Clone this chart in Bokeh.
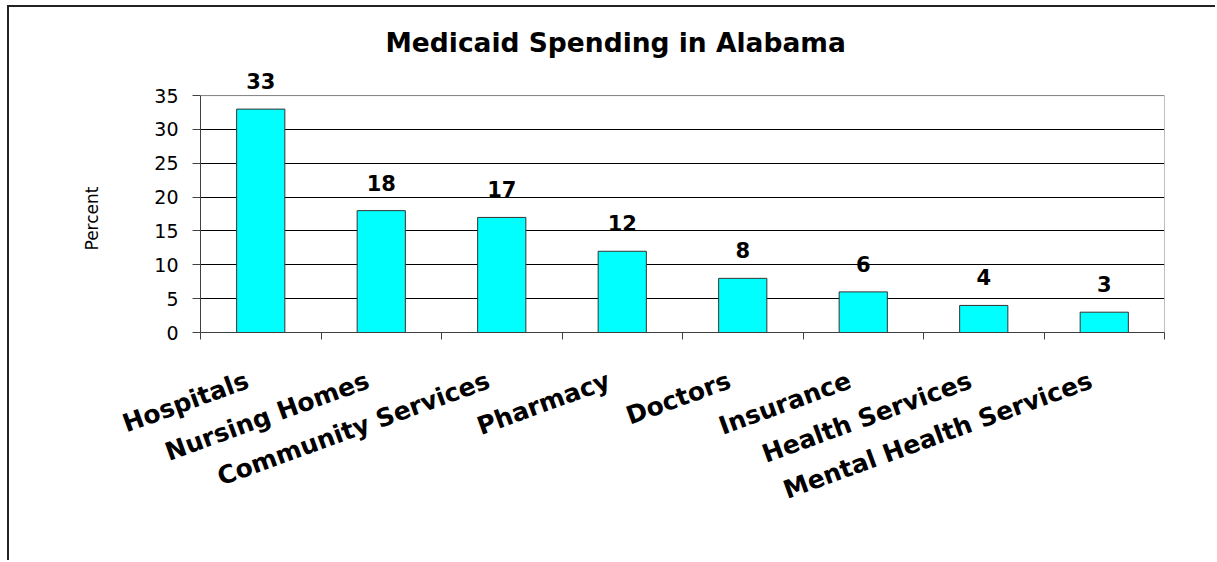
import math
from bokeh.plotting import figure
from bokeh.models import Range1d, FixedTicker, ColumnDataSource, LabelSet, Title
from bokeh.core.properties import value
from bokeh.embed import file_html
from bokeh.resources import INLINE

# ---- data ----
title_text = "Medicaid Spending in Alabama"
categories = ["Hospitals", "Nursing Homes", "Community Services", "Pharmacy",
              "Doctors", "Insurance", "Health Services", "Mental Health Services"]
percent = [33, 18, 17, 12, 8, 6, 4, 3]
y_ticks = [0, 5, 10, 15, 20, 25, 30, 35]
y_label = "Percent"

n = len(categories)
y_top = y_ticks[-1]
y_head = y_top + 4          # head-room above the plot area for the value labels
centers = [i + 0.5 for i in range(n)]
boundaries = list(range(n + 1))
label_shift = 0.11          # category labels end slightly left of the centre (Excel style)
label_pos = [c - label_shift for c in centers]

FONT = "DejaVu Sans"
MARGIN_L, MARGIN_T = 9, 7   # outer chart border offset in the window

p = figure(width=1217 - MARGIN_L, height=562 - MARGIN_T,
           x_range=Range1d(0, n), y_range=Range1d(y_ticks[0], y_head),
           output_backend="svg", toolbar_location=None,
           min_border_left=200 - MARGIN_L, min_border_right=53,
           min_border_top=68 - MARGIN_T, min_border_bottom=230)

p.styles = {"margin-left": f"{MARGIN_L}px", "margin-top": f"{MARGIN_T}px",
            "box-shadow": "-2px -2px 0px 0px #222222"}

p.background_fill_color = "white"
p.border_fill_color = "white"
p.outline_line_color = None

# title
p.title.text = title_text
p.title.align = "left"
p.title.offset = 185
p.title.text_font = FONT
p.title.text_font_size = "26.5px"
p.title.text_font_style = "bold"
p.title.text_color = "black"
p.title.standoff = 21

# grid (black inner lines)
p.xgrid.visible = False
p.ygrid.ticker = FixedTicker(ticks=y_ticks[1:-1])
p.ygrid.grid_line_color = "black"
p.ygrid.grid_line_width = 1

# plot-area border (top and right, grey)
p.segment(x0=[0, n], y0=[y_top, 0], x1=[n, n], y1=[y_top, y_top],
          line_color="#808080", line_width=1)

# bars
src = ColumnDataSource(dict(x=centers, top=percent, text=[str(v) for v in percent]))
p.vbar(x="x", top="top", width=0.4, bottom=0, source=src,
       fill_color="#00FFFF", line_color="#333333", line_width=1)

labels = LabelSet(x="x", y="top", text="text", source=src,
                  text_align="center", text_baseline="alphabetic", y_offset=20,
                  text_font=value(FONT), text_font_size=value("21px"),
                  text_font_style="bold", text_color="black")
p.add_layout(labels)

# y axis
ya = p.yaxis[0]
ya.ticker = FixedTicker(ticks=y_ticks)
ya.bounds = (y_ticks[0], y_top)
ya.axis_line_color = "#404040"
ya.major_tick_line_color = "#404040"
ya.major_tick_out = 8
ya.major_tick_in = 0
ya.minor_tick_line_color = None
ya.major_label_standoff = 14
ya.major_label_text_font = FONT
ya.major_label_text_font_size = "19px"
ya.major_label_text_color = "black"

# y axis title, centred on the 0-35 plot area
ytitle = Title(text=y_label, align="left", offset=82, standoff=100,
               text_font=FONT, text_font_size="17px", text_font_style="normal",
               text_color="black")
p.add_layout(ytitle, "left")

# x axis
xa = p.xaxis[0]
xa.ticker = FixedTicker(ticks=label_pos, minor_ticks=boundaries)
xa.major_label_overrides = {lp: c for lp, c in zip(label_pos, categories)}
xa.axis_line_color = "#404040"
xa.major_tick_out = 0
xa.major_tick_in = 0
xa.minor_tick_out = 7
xa.minor_tick_in = 0
xa.minor_tick_line_color = "#404040"
xa.major_label_orientation = math.radians(20)
xa.major_label_standoff = 40
xa.major_label_text_font = FONT
xa.major_label_text_font_size = "25px"
xa.major_label_text_font_style = "bold"
xa.major_label_text_color = "black"

open("out.html", "w").write(file_html(p, INLINE))
